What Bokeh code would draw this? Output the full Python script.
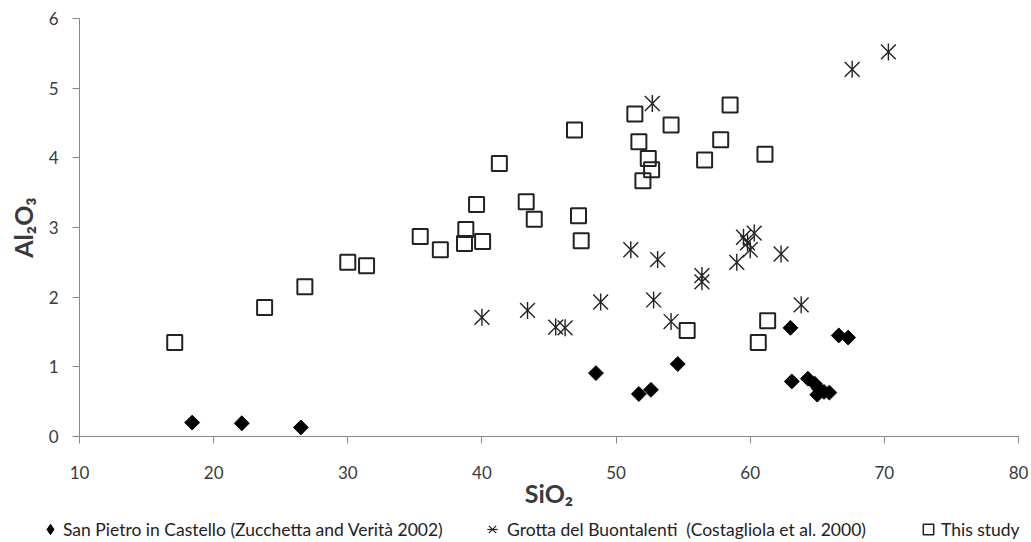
from bokeh.plotting import figure
from bokeh.models import Legend, LegendItem, ColumnDataSource, FixedTicker
from bokeh.embed import file_html
from bokeh.resources import INLINE
import math

# San Pietro in Castello (Zucchetta and Verità 2002)
sp_sio2 = [18.4, 22.1, 26.5, 48.5, 51.7, 52.6, 54.6, 63.0, 63.1, 64.3, 64.8, 65.1, 65.0, 65.5, 65.9, 66.6, 67.3]
sp_al2o3 = [0.20, 0.19, 0.13, 0.91, 0.61, 0.67, 1.04, 1.56, 0.79, 0.83, 0.76, 0.69, 0.60, 0.64, 0.63, 1.45, 1.42]

# Grotta del Buontalenti (Costagliola et al. 2000)
gb_sio2 = [40.0, 43.4, 45.5, 46.2, 48.85, 51.1, 52.7, 52.8, 53.1, 54.1, 56.4, 56.4, 59.0, 59.5, 59.8, 60.0, 60.3, 62.3, 63.8, 67.6, 70.3]
gb_al2o3 = [1.71, 1.81, 1.57, 1.56, 1.93, 2.68, 4.78, 1.96, 2.54, 1.65, 2.31, 2.22, 2.50, 2.86, 2.78, 2.68, 2.92, 2.62, 1.89, 5.27, 5.52]

# This study
ts_sio2 = [17.1, 23.8, 26.8, 30.0, 31.4, 35.4, 36.9, 38.8, 38.7, 39.6, 40.05, 41.3, 43.3, 43.9, 46.9,
           47.2, 47.4, 51.4, 51.7, 52.0, 52.4, 52.65, 54.1, 55.3, 56.6, 57.8, 58.5, 60.6, 61.3, 61.1]
ts_al2o3 = [1.35, 1.85, 2.15, 2.50, 2.45, 2.87, 2.68, 2.97, 2.77, 3.33, 2.80, 3.92, 3.37, 3.12, 4.40,
            3.17, 2.81, 4.63, 4.23, 3.67, 3.99, 3.83, 4.47, 1.52, 3.97, 4.26, 4.76, 1.35, 1.66, 4.05]

x_ticks = [10, 20, 30, 40, 50, 60, 70, 80]
y_ticks = [0, 1, 2, 3, 4, 5, 6]

legend_labels = ["San Pietro in Castello (Zucchetta and Verità 2002)",
                 "Grotta del Buontalenti  (Costagliola et al. 2000)",
                 "This study"]

INK = "#222222"
W = 1031
H_MAIN, H_LEG = 516, 26
FL, FR, FT, FB = 79, 1018, 18, 436

sp_src = ColumnDataSource(dict(x=sp_sio2, y=sp_al2o3))
gb_src = ColumnDataSource(dict(x=gb_sio2, y=gb_al2o3))
ts_src = ColumnDataSource(dict(x=ts_sio2, y=ts_al2o3))

p = figure(width=W, height=H_MAIN, x_range=(10, 80), y_range=(0, 6),
           output_backend="svg", toolbar_location=None,
           min_border_left=FL, min_border_right=W - FR, min_border_top=FT,
           min_border_bottom=H_MAIN - FB)
p.grid.visible = False
p.outline_line_color = None

p.scatter("x", "y", source=ts_src, marker="square", size=15, fill_color=None,
          line_color=INK, line_width=2)
p.scatter("x", "y", source=gb_src, marker="x", size=21, line_color=INK, line_width=1.4)
p.scatter("x", "y", source=gb_src, marker="dash", angle=math.pi / 2, size=17,
          line_color=INK, line_width=1.4)
p.scatter("x", "y", source=sp_src, marker="square", angle=math.pi / 4, size=10.5,
          fill_color="black", line_color="black", line_width=1)

for ax in (p.xaxis[0], p.yaxis[0]):
    ax.axis_line_color = "#888888"
    ax.major_tick_line_color = "#888888"
    ax.minor_tick_line_color = None
    ax.major_tick_in = 0
    ax.major_tick_out = 7
    ax.major_label_text_font = "Lato"
    ax.major_label_text_font_size = "17px"
    ax.major_label_text_color = "#3a3a3a"
    ax.axis_label_text_font = "Lato"
    ax.axis_label_text_font_style = "bold"
    ax.axis_label_text_font_size = "25px"
    ax.axis_label_text_color = "#3a3a3a"

p.xaxis.ticker = FixedTicker(ticks=x_ticks)
p.yaxis.ticker = FixedTicker(ticks=y_ticks)
p.xaxis.axis_label = "SiO₂"
p.yaxis.axis_label = "Al₂O₃"
p.xaxis.major_label_standoff = 22
p.xaxis.axis_label_standoff = -4
p.yaxis.major_label_standoff = 14
p.yaxis.axis_label_standoff = 8

# legend strip: a small figure without axes whose frame is the whole strip
lf = figure(width=W, height=H_LEG, x_range=(0, 1), y_range=(0, 1),
            x_axis_location=None, y_axis_location=None,
            output_backend="svg", toolbar_location=None,
            min_border_left=0, min_border_right=0, min_border_top=0, min_border_bottom=0)
lf.grid.visible = False
lf.outline_line_color = None
l_sp = lf.scatter("x", "y", source=sp_src, marker="diamond", size=15, fill_color="black", line_color="black")
l_gb1 = lf.scatter("x", "y", source=gb_src, marker="x", size=21, line_color=INK, line_width=1.2)
l_gb2 = lf.scatter("x", "y", source=gb_src, marker="dash", angle=math.pi / 2, size=17, line_color=INK, line_width=1.2)
l_ts = lf.scatter("x", "y", source=ts_src, marker="square", size=15, fill_color=None, line_color=INK, line_width=1.5)

G = 26
items = [([l_sp], legend_labels[0], 50, 58),
         ([l_gb1, l_gb2], legend_labels[1], 492, 507),
         ([l_ts], legend_labels[2], 928, 940)]
for rends, lab, cx, tx in items:
    lg = Legend(items=[LegendItem(label=lab, renderers=rends)],
                location=(cx - G / 2, 0), orientation="horizontal",
                glyph_width=G, glyph_height=G, label_standoff=int(tx - cx - G / 2),
                padding=0, margin=0, spacing=0,
                border_line_color=None, background_fill_alpha=0,
                label_text_font="Lato", label_text_font_size="17.5px",
                label_text_color=INK)
    lf.add_layout(lg, "center")

open("out.html", "w").write(file_html([p, lf], INLINE))
